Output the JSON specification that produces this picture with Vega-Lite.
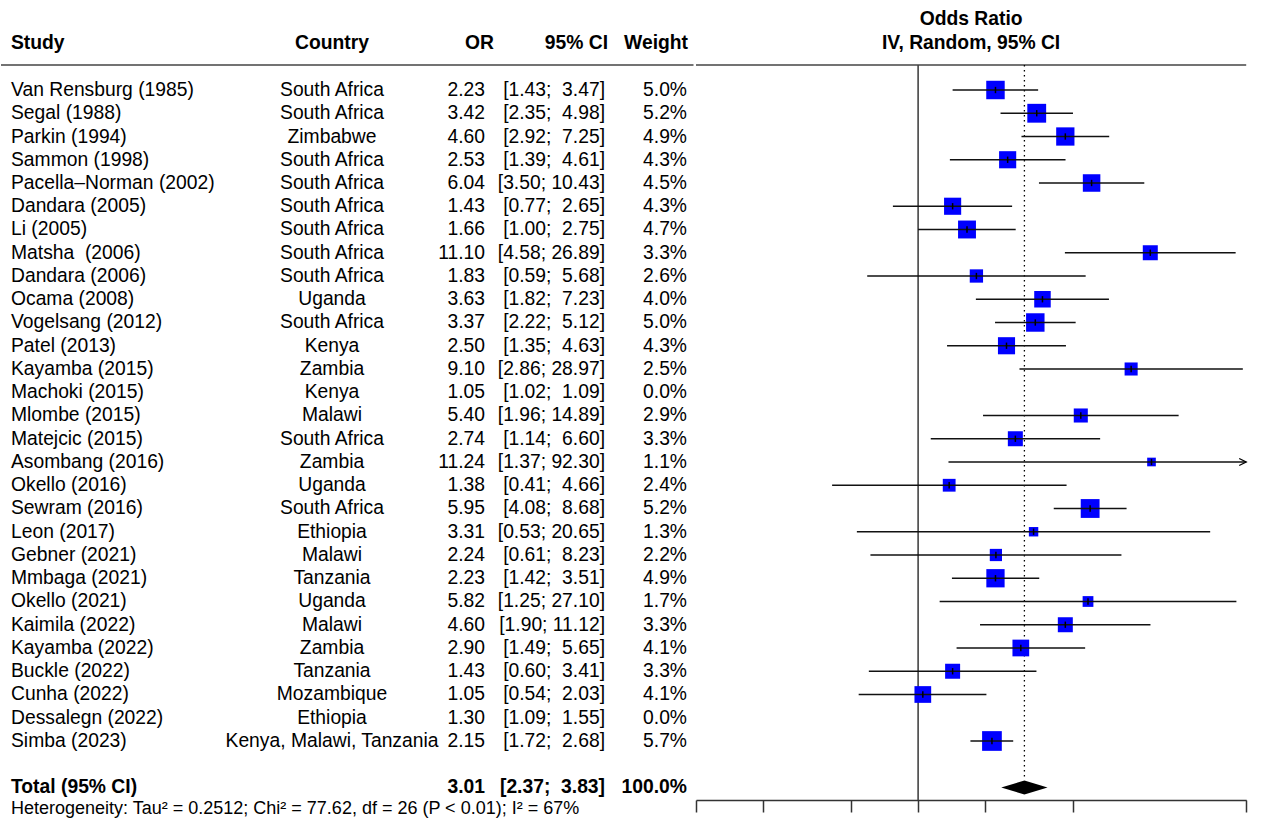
{
  "$schema": "https://vega.github.io/schema/vega-lite/v6.json",
  "padding": 0,
  "spacing": 0,
  "background": "white",
  "config": {
    "view": {"stroke": null},
    "font": "Liberation Sans",
    "text": {"font": "Liberation Sans", "fontSize": 19.3, "color": "black", "baseline": "middle"},
    "axis": {"labels": false, "grid": false, "tickSize": 12, "domainColor": "#333", "tickColor": "#333", "domainWidth": 1.5, "tickWidth": 1.5, "title": null}
  },
  "datasets": {
    "studies": [
      {"row": 1, "study": "Van Rensburg (1985)", "country": "South Africa", "or": 2.23, "lo": 1.43, "hi": 3.47, "weight": 5.0},
      {"row": 2, "study": "Segal (1988)", "country": "South Africa", "or": 3.42, "lo": 2.35, "hi": 4.98, "weight": 5.2},
      {"row": 3, "study": "Parkin (1994)", "country": "Zimbabwe", "or": 4.60, "lo": 2.92, "hi": 7.25, "weight": 4.9},
      {"row": 4, "study": "Sammon (1998)", "country": "South Africa", "or": 2.53, "lo": 1.39, "hi": 4.61, "weight": 4.3},
      {"row": 5, "study": "Pacella–Norman (2002)", "country": "South Africa", "or": 6.04, "lo": 3.50, "hi": 10.43, "weight": 4.5},
      {"row": 6, "study": "Dandara (2005)", "country": "South Africa", "or": 1.43, "lo": 0.77, "hi": 2.65, "weight": 4.3},
      {"row": 7, "study": "Li (2005)", "country": "South Africa", "or": 1.66, "lo": 1.00, "hi": 2.75, "weight": 4.7},
      {"row": 8, "study": "Matsha\u00a0 (2006)", "country": "South Africa", "or": 11.10, "lo": 4.58, "hi": 26.89, "weight": 3.3},
      {"row": 9, "study": "Dandara (2006)", "country": "South Africa", "or": 1.83, "lo": 0.59, "hi": 5.68, "weight": 2.6},
      {"row": 10, "study": "Ocama (2008)", "country": "Uganda", "or": 3.63, "lo": 1.82, "hi": 7.23, "weight": 4.0},
      {"row": 11, "study": "Vogelsang (2012)", "country": "South Africa", "or": 3.37, "lo": 2.22, "hi": 5.12, "weight": 5.0},
      {"row": 12, "study": "Patel (2013)", "country": "Kenya", "or": 2.50, "lo": 1.35, "hi": 4.63, "weight": 4.3},
      {"row": 13, "study": "Kayamba (2015)", "country": "Zambia", "or": 9.10, "lo": 2.86, "hi": 28.97, "weight": 2.5},
      {"row": 14, "study": "Machoki (2015)", "country": "Kenya", "or": 1.05, "lo": 1.02, "hi": 1.09, "weight": 0.0},
      {"row": 15, "study": "Mlombe (2015)", "country": "Malawi", "or": 5.40, "lo": 1.96, "hi": 14.89, "weight": 2.9},
      {"row": 16, "study": "Matejcic (2015)", "country": "South Africa", "or": 2.74, "lo": 1.14, "hi": 6.60, "weight": 3.3},
      {"row": 17, "study": "Asombang (2016)", "country": "Zambia", "or": 11.24, "lo": 1.37, "hi": 92.30, "weight": 1.1},
      {"row": 18, "study": "Okello (2016)", "country": "Uganda", "or": 1.38, "lo": 0.41, "hi": 4.66, "weight": 2.4},
      {"row": 19, "study": "Sewram (2016)", "country": "South Africa", "or": 5.95, "lo": 4.08, "hi": 8.68, "weight": 5.2},
      {"row": 20, "study": "Leon (2017)", "country": "Ethiopia", "or": 3.31, "lo": 0.53, "hi": 20.65, "weight": 1.3},
      {"row": 21, "study": "Gebner (2021)", "country": "Malawi", "or": 2.24, "lo": 0.61, "hi": 8.23, "weight": 2.2},
      {"row": 22, "study": "Mmbaga (2021)", "country": "Tanzania", "or": 2.23, "lo": 1.42, "hi": 3.51, "weight": 4.9},
      {"row": 23, "study": "Okello (2021)", "country": "Uganda", "or": 5.82, "lo": 1.25, "hi": 27.10, "weight": 1.7},
      {"row": 24, "study": "Kaimila (2022)", "country": "Malawi", "or": 4.60, "lo": 1.90, "hi": 11.12, "weight": 3.3},
      {"row": 25, "study": "Kayamba (2022)", "country": "Zambia", "or": 2.90, "lo": 1.49, "hi": 5.65, "weight": 4.1},
      {"row": 26, "study": "Buckle (2022)", "country": "Tanzania", "or": 1.43, "lo": 0.60, "hi": 3.41, "weight": 3.3},
      {"row": 27, "study": "Cunha (2022)", "country": "Mozambique", "or": 1.05, "lo": 0.54, "hi": 2.03, "weight": 4.1},
      {"row": 28, "study": "Dessalegn (2022)", "country": "Ethiopia", "or": 1.30, "lo": 1.09, "hi": 1.55, "weight": 0.0},
      {"row": 29, "study": "Simba (2023)", "country": "Kenya, Malawi, Tanzania", "or": 2.15, "lo": 1.72, "hi": 2.68, "weight": 5.7}
    ],
    "total": [
      {"row": 31, "study": "Total (95% CI)", "or": 3.01, "lo": 2.37, "hi": 3.83, "weight": 100.0}
    ]
  },
  "resolve": {"scale": {"x": "independent", "y": "independent", "size": "independent"}},
  "hconcat": [
    {
      "width": 692.5,
      "height": 826,
      "layer": [
        {
          "data": {"values": [{}]},
          "mark": {"type": "rule", "color": "#444", "strokeWidth": 1.6},
          "encoding": {
            "y": {"datum": -0.075, "type": "quantitative", "scale": {"domain": [-2.871, 32.656], "reverse": true, "nice": false, "zero": false}, "axis": null}
          }
        },
        {
          "data": {"values": [{}]},
          "mark": {"type": "text", "text": "Study", "align": "left", "fontWeight": "bold"},
          "encoding": {
            "x": {"datum": 10, "type": "quantitative", "scale": {"domain": [0, 692.5], "nice": false, "zero": false}, "axis": null},
            "y": {"datum": -1.022, "type": "quantitative", "axis": null}
          }
        },
        {
          "data": {"values": [{}]},
          "mark": {"type": "text", "text": "Country", "align": "center", "fontWeight": "bold"},
          "encoding": {
            "x": {"datum": 331, "type": "quantitative", "axis": null},
            "y": {"datum": -1.022, "type": "quantitative", "axis": null}
          }
        },
        {
          "data": {"values": [{}]},
          "mark": {"type": "text", "text": "OR", "align": "right", "fontWeight": "bold"},
          "encoding": {
            "x": {"datum": 493, "type": "quantitative", "axis": null},
            "y": {"datum": -1.022, "type": "quantitative", "axis": null}
          }
        },
        {
          "data": {"values": [{}]},
          "mark": {"type": "text", "text": "95% CI", "align": "right", "fontWeight": "bold"},
          "encoding": {
            "x": {"datum": 607, "type": "quantitative", "axis": null},
            "y": {"datum": -1.022, "type": "quantitative", "axis": null}
          }
        },
        {
          "data": {"values": [{}]},
          "mark": {"type": "text", "text": "Weight", "align": "right", "fontWeight": "bold"},
          "encoding": {
            "x": {"datum": 687, "type": "quantitative", "axis": null},
            "y": {"datum": -1.022, "type": "quantitative", "axis": null}
          }
        },
        {
          "data": {"name": "studies"},
          "mark": {"type": "text", "align": "left"},
          "encoding": {
            "x": {"datum": 10, "type": "quantitative", "axis": null},
            "y": {"field": "row", "type": "quantitative", "axis": null},
            "text": {"field": "study"}
          }
        },
        {
          "data": {"name": "studies"},
          "mark": {"type": "text", "align": "center"},
          "encoding": {
            "x": {"datum": 331, "type": "quantitative", "axis": null},
            "y": {"field": "row", "type": "quantitative", "axis": null},
            "text": {"field": "country"}
          }
        },
        {
          "data": {"name": "studies"},
          "mark": {"type": "text", "align": "right"},
          "encoding": {
            "x": {"datum": 484, "type": "quantitative", "axis": null},
            "y": {"field": "row", "type": "quantitative", "axis": null},
            "text": {"field": "or", "type": "quantitative", "format": ".2f"}
          }
        },
        {
          "data": {"name": "studies"},
          "transform": [{"calculate": "'[' + format(datum.lo, '.2f') + ';' + (datum.hi < 10 ? '\u00a0 ' : ' ') + format(datum.hi, '.2f') + ']'", "as": "ci"}],
          "mark": {"type": "text", "align": "right"},
          "encoding": {
            "x": {"datum": 604, "type": "quantitative", "axis": null},
            "y": {"field": "row", "type": "quantitative", "axis": null},
            "text": {"field": "ci"}
          }
        },
        {
          "data": {"name": "studies"},
          "transform": [{"calculate": "format(datum.weight, '.1f') + '%'", "as": "wt"}],
          "mark": {"type": "text", "align": "right"},
          "encoding": {
            "x": {"datum": 686, "type": "quantitative", "axis": null},
            "y": {"field": "row", "type": "quantitative", "axis": null},
            "text": {"field": "wt"}
          }
        },
        {
          "data": {"name": "total"},
          "mark": {"type": "text", "align": "left", "fontWeight": "bold"},
          "encoding": {
            "x": {"datum": 10, "type": "quantitative", "axis": null},
            "y": {"field": "row", "type": "quantitative", "axis": null},
            "text": {"field": "study"}
          }
        },
        {
          "data": {"name": "total"},
          "mark": {"type": "text", "align": "right", "fontWeight": "bold"},
          "encoding": {
            "x": {"datum": 484, "type": "quantitative", "axis": null},
            "y": {"field": "row", "type": "quantitative", "axis": null},
            "text": {"field": "or", "type": "quantitative", "format": ".2f"}
          }
        },
        {
          "data": {"name": "total"},
          "transform": [{"calculate": "'[' + format(datum.lo, '.2f') + ';' + (datum.hi < 10 ? '\u00a0 ' : ' ') + format(datum.hi, '.2f') + ']'", "as": "ci"}],
          "mark": {"type": "text", "align": "right", "fontWeight": "bold"},
          "encoding": {
            "x": {"datum": 604, "type": "quantitative", "axis": null},
            "y": {"field": "row", "type": "quantitative", "axis": null},
            "text": {"field": "ci"}
          }
        },
        {
          "data": {"name": "total"},
          "transform": [{"calculate": "format(datum.weight, '.1f') + '%'", "as": "wt"}],
          "mark": {"type": "text", "align": "right", "fontWeight": "bold"},
          "encoding": {
            "x": {"datum": 686, "type": "quantitative", "axis": null},
            "y": {"field": "row", "type": "quantitative", "axis": null},
            "text": {"field": "wt"}
          }
        },
        {
          "data": {"values": [{}]},
          "mark": {"type": "text", "align": "left", "fontSize": 18, "text": "Heterogeneity: Tau² = 0.2512; Chi² = 77.62, df = 26 (P < 0.01); I² = 67%"},
          "encoding": {
            "x": {"datum": 10, "type": "quantitative", "axis": null},
            "y": {"datum": 31.925, "type": "quantitative", "axis": null}
          }
        }
      ]
    },
    {
      "width": 550.2,
      "height": 800,
      "layer": [
        {
          "data": {"values": [{}]},
          "mark": {"type": "rule", "color": "#444", "strokeWidth": 1.6},
          "encoding": {
            "y": {"datum": -0.075, "type": "quantitative", "scale": {"domain": [-2.871, 31.538], "reverse": true, "nice": false, "zero": false}, "axis": null}
          }
        },
        {
          "data": {"values": [{}]},
          "mark": {"type": "rule", "color": "#444", "strokeWidth": 1.6},
          "encoding": {
            "x": {"datum": 1, "type": "quantitative", "scale": {"type": "log", "domain": [0.1, 30], "nice": false, "clamp": true}, "axis": {"values": [0.1, 0.2, 0.5, 1, 2, 5, 30], "orient": "bottom"}},
            "y": {"datum": -0.075, "type": "quantitative", "axis": null},
            "y2": {"datum": 31.538}
          }
        },
        {
          "data": {"name": "total"},
          "mark": {"type": "rule", "color": "black", "strokeWidth": 1.3, "strokeDash": [1.5, 3.5]},
          "encoding": {
            "x": {"field": "or", "type": "quantitative", "axis": {"values": [0.1, 0.2, 0.5, 1, 2, 5, 30], "orient": "bottom"}},
            "y": {"datum": -0.075, "type": "quantitative", "axis": null},
            "y2": {"datum": 30.59}
          }
        },
        {
          "data": {"name": "studies"},
          "transform": [{"filter": "datum.weight > 0"}],
          "mark": {"type": "point", "shape": "square", "filled": true, "color": "#0000FF", "opacity": 1},
          "encoding": {
            "x": {"field": "or", "type": "quantitative", "axis": {"values": [0.1, 0.2, 0.5, 1, 2, 5, 30], "orient": "bottom"}},
            "y": {"field": "row", "type": "quantitative", "axis": null},
            "size": {"field": "weight", "type": "quantitative", "scale": {"domain": [0, 5.7], "range": [0, 388.7], "zero": true}, "legend": null}
          }
        },
        {
          "data": {"name": "studies"},
          "transform": [{"filter": "datum.weight > 0"}],
          "mark": {"type": "rule", "color": "#111", "strokeWidth": 1.3},
          "encoding": {
            "x": {"field": "lo", "type": "quantitative", "axis": {"values": [0.1, 0.2, 0.5, 1, 2, 5, 30], "orient": "bottom"}},
            "x2": {"field": "hi"},
            "y": {"field": "row", "type": "quantitative", "axis": null}
          }
        },
        {
          "data": {"name": "studies"},
          "transform": [{"filter": "datum.weight > 0"}],
          "mark": {"type": "point", "shape": "M0,-1L0,1", "filled": false, "color": "black", "strokeWidth": 1.5, "size": 40, "opacity": 1},
          "encoding": {
            "x": {"field": "or", "type": "quantitative", "axis": {"values": [0.1, 0.2, 0.5, 1, 2, 5, 30], "orient": "bottom"}},
            "y": {"field": "row", "type": "quantitative", "axis": null}
          }
        },
        {
          "data": {"name": "studies"},
          "transform": [{"filter": "datum.weight > 0 && datum.hi > 30"}],
          "mark": {"type": "point", "shape": "M-2,-1L0,0L-2,1", "filled": false, "color": "black", "strokeWidth": 1.3, "size": 49, "opacity": 1},
          "encoding": {
            "x": {"field": "hi", "type": "quantitative", "axis": {"values": [0.1, 0.2, 0.5, 1, 2, 5, 30], "orient": "bottom"}},
            "y": {"field": "row", "type": "quantitative", "axis": null}
          }
        },
        {
          "data": {"name": "total"},
          "mark": {"type": "point", "shape": "M-1,0L0,-0.3L1,0L0,0.3Z", "filled": true, "color": "black", "size": 2144, "opacity": 1},
          "encoding": {
            "x": {"field": "or", "type": "quantitative", "axis": {"values": [0.1, 0.2, 0.5, 1, 2, 5, 30], "orient": "bottom"}},
            "y": {"field": "row", "type": "quantitative", "axis": null}
          }
        },
        {
          "data": {"values": [{}]},
          "mark": {"type": "text", "text": "Odds Ratio", "align": "center", "fontWeight": "bold"},
          "encoding": {
            "x": {"datum": 1.7321, "type": "quantitative", "axis": {"values": [0.1, 0.2, 0.5, 1, 2, 5, 30], "orient": "bottom"}},
            "y": {"datum": -2.054, "type": "quantitative", "axis": null}
          }
        },
        {
          "data": {"values": [{}]},
          "mark": {"type": "text", "text": "IV, Random, 95% CI", "align": "center", "fontWeight": "bold"},
          "encoding": {
            "x": {"datum": 1.7321, "type": "quantitative", "axis": {"values": [0.1, 0.2, 0.5, 1, 2, 5, 30], "orient": "bottom"}},
            "y": {"datum": -1.022, "type": "quantitative", "axis": null}
          }
        }
      ]
    }
  ]
}
